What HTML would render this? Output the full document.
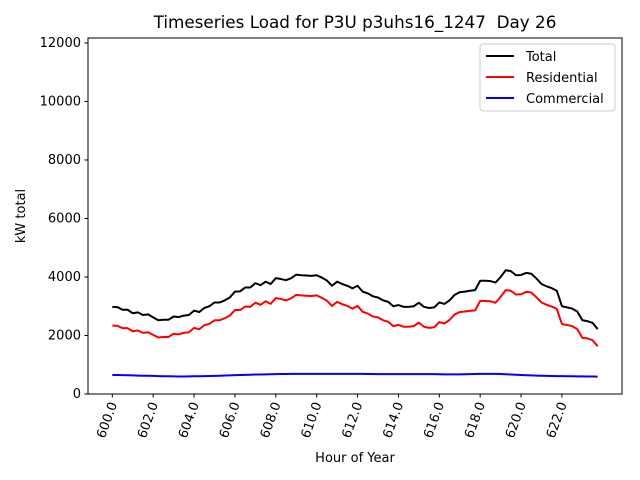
<!DOCTYPE html>
<html><head><meta charset="utf-8"><style>
body{margin:0;background:#fff;}
svg{display:block;font-family:"DejaVu Sans","Liberation Sans",sans-serif;}
</style></head><body>
<svg id="chart" width="640" height="480">
<rect width="640" height="480" fill="#fff"/>
<text x="355" y="28" text-anchor="middle" font-size="16.8">Timeseries Load for P3U p3uhs16_1247&#160; Day 26</text>
<text x="355" y="462" text-anchor="middle" font-size="13">Hour of Year</text>
<text transform="translate(25,216) rotate(-90)" text-anchor="middle" font-size="13">kW total</text>
<g id="plot"></g>
</svg>
<script>
const yTicks=[0,2000,4000,6000,8000,10000,12000];
const xTicks=[600,602,604,606,608,610,612,614,616,618,620,622];
const startHour=600, stepHour=0.25;
const total=[2980,2970,2880,2880,2760,2790,2700,2720,2620,2520,2540,2540,2650,2630,2680,2700,2850,2800,2940,3000,3130,3130,3200,3300,3500,3510,3640,3640,3790,3720,3840,3760,3960,3930,3890,3960,4080,4060,4050,4040,4060,3980,3880,3700,3840,3760,3700,3610,3700,3500,3440,3340,3300,3200,3150,3000,3040,2980,2980,3000,3120,2980,2940,2960,3130,3080,3200,3390,3480,3500,3530,3550,3870,3870,3860,3810,4000,4230,4200,4060,4070,4140,4110,3950,3760,3680,3620,3530,3000,2960,2920,2820,2520,2490,2430,2220];
const residential=[2340,2330,2250,2250,2140,2170,2090,2110,2020,1930,1950,1950,2060,2040,2090,2110,2260,2210,2350,2400,2520,2520,2590,2680,2870,2870,2990,2980,3120,3050,3170,3080,3280,3250,3200,3270,3390,3370,3360,3350,3370,3290,3190,3010,3150,3070,3010,2920,3010,2810,2750,2650,2620,2520,2470,2320,2360,2300,2300,2320,2440,2300,2260,2280,2460,2410,2530,2720,2800,2820,2840,2860,3180,3180,3170,3120,3320,3550,3530,3400,3410,3490,3470,3310,3130,3050,2990,2910,2390,2360,2320,2220,1920,1900,1840,1630];
const commercial=[650,648,645,640,635,630,625,622,618,612,608,605,602,600,600,602,605,608,612,616,620,625,632,638,645,650,655,660,665,668,672,675,680,682,684,686,688,690,690,690,690,690,690,690,690,690,690,690,688,686,684,682,680,678,678,678,680,680,680,680,680,680,680,678,675,672,670,670,672,675,680,685,690,690,688,686,682,676,668,660,650,642,635,628,622,618,615,612,610,608,606,604,602,600,598,596];
const L=88,R=622,T=38,B=394;
const xMin=598.81,xMax=624.94,yMin=0,yMax=12170;
const xs=h=>L+(h-xMin)/(xMax-xMin)*(R-L);
const ys=v=>B-(v-yMin)/(yMax-yMin)*(B-T);
const NS="http://www.w3.org/2000/svg";
const g=document.getElementById('plot');
function mk(tag,attrs){const e=document.createElementNS(NS,tag);for(const k in attrs)e.setAttribute(k,attrs[k]);g.appendChild(e);return e;}
function series(arr,color,name){
  const pts=arr.map((v,i)=>xs(startHour+i*stepHour).toFixed(2)+','+ys(v).toFixed(2)).join(' ');
  const p=mk('polyline',{points:pts,fill:'none',stroke:color,'stroke-width':2,'stroke-linejoin':'round'});
  
  
}
series(total,'#000','total-line');
series(residential,'#ff0000','residential-line');
series(commercial,'#0000ff','commercial-line');
const frame=mk('rect',{x:L,y:T,width:R-L,height:B-T,fill:'none',stroke:'#000','stroke-width':1});


yTicks.forEach(v=>{
  const y=ys(v);
  mk('line',{x1:L-3.5,x2:L,y1:y,y2:y,stroke:'#000'});
  const t=mk('text',{x:L-7,y:y+4,'text-anchor':'end','font-size':13});
  t.textContent=v;
  
  
});
xTicks.forEach(v=>{
  const x=xs(v);
  mk('line',{x1:x,x2:x,y1:B,y2:B+3.5,stroke:'#000'});
  const t=mk('text',{transform:`translate(${x+5},${B+10}) rotate(-70)`,'text-anchor':'end','font-size':13});
  t.textContent=v.toFixed(1);
  
  
});
const lg=mk('rect',{x:480,y:44,width:135,height:67,fill:'#fff',stroke:'#ccc',rx:3});


[['Total','#000'],['Residential','#ff0000'],['Commercial','#0000ff']].forEach((e,i)=>{
  const y=56+i*21;
  mk('line',{x1:486,x2:514,y1:y,y2:y,stroke:e[1],'stroke-width':2});
  const t=mk('text',{x:526,y:y+5,'font-size':13});
  t.textContent=e[0];
  
  
});
</script>
</body></html>
